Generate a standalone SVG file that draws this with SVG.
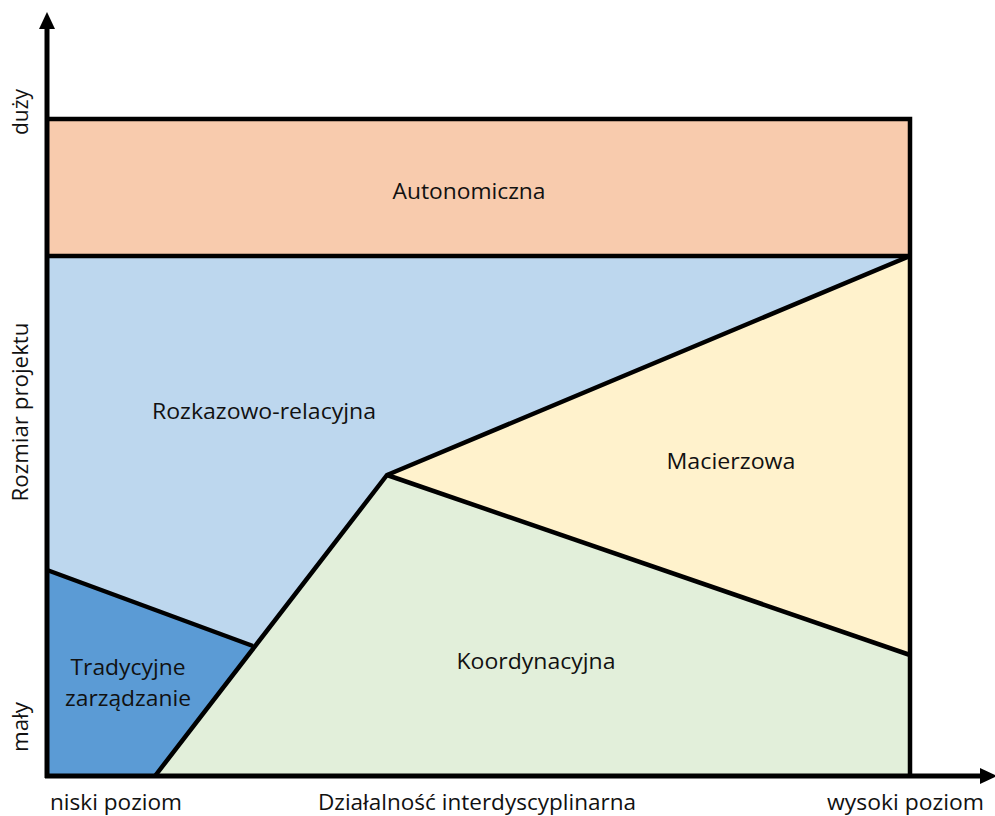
<svg xmlns="http://www.w3.org/2000/svg" width="995" height="816" viewBox="0 0 995 816">
  <style>
    text { font-family: "Open Sans", "Noto Sans", "Liberation Sans", sans-serif; font-size: 22px; fill: #111; }
    .edge { stroke: #000; stroke-width: 4.5; fill: none; stroke-linejoin: miter; }
    .axis { stroke: #000; stroke-width: 5; fill: none; }
    .head { fill: #000; }
  </style>
  <rect width="995" height="816" fill="#fff"/>

  <!-- regions -->
  <g id="autonomiczna">
    <rect x="47" y="119" width="863" height="137" fill="#F8CBAD"/>
    <text x="469" y="199" text-anchor="middle" textLength="153" lengthAdjust="spacingAndGlyphs">Autonomiczna</text>
  </g>
  <g id="rozkazowo-relacyjna">
    <polygon points="47,256 910,256 387,475 253,646 47,570" fill="#BDD7EE"/>
    <text x="264" y="419" text-anchor="middle" textLength="224" lengthAdjust="spacingAndGlyphs">Rozkazowo-relacyjna</text>
  </g>
  <g id="macierzowa">
    <polygon points="387,475 910,256 910,655" fill="#FFF2CC"/>
    <text x="731" y="469" text-anchor="middle" textLength="129" lengthAdjust="spacingAndGlyphs">Macierzowa</text>
  </g>
  <g id="koordynacyjna">
    <polygon points="387,475 910,655 910,776 155,776" fill="#E2EFDA"/>
    <text x="536" y="669" text-anchor="middle" textLength="159" lengthAdjust="spacingAndGlyphs">Koordynacyjna</text>
  </g>
  <g id="tradycyjne">
    <polygon points="47,570 253,646 155,776 47,776" fill="#5B9BD5"/>
    <text x="128" y="675" text-anchor="middle" textLength="115" lengthAdjust="spacingAndGlyphs">Tradycyjne</text>
    <text x="128" y="706" text-anchor="middle" textLength="126" lengthAdjust="spacingAndGlyphs">zarządzanie</text>
  </g>

  <!-- boundaries and axes -->
  <g id="connectors">
    <polyline class="edge" points="47,119 910,119 910,776"/>
    <line class="edge" x1="47" y1="256" x2="910" y2="256"/>
    <line class="edge" x1="47" y1="570" x2="253" y2="646"/>
    <polyline class="edge" points="155,776 387,475 910,256"/>
    <line class="edge" x1="387" y1="475" x2="910" y2="655"/>
    <line class="axis" x1="47" y1="778" x2="47" y2="26"/>
    <polygon class="head" points="47,12 39,29 55,29"/>
    <line class="axis" x1="45" y1="776" x2="982" y2="776"/>
    <polygon class="head" points="997,776 980,768 980,784"/>
  </g>

  <!-- axis labels -->
  <g id="x-labels">
    <text x="50" y="810" textLength="132" lengthAdjust="spacingAndGlyphs">niski poziom</text>
    <text x="477" y="810" text-anchor="middle" textLength="318" lengthAdjust="spacingAndGlyphs">Działalność interdyscyplinarna</text>
    <text x="827" y="810" textLength="157" lengthAdjust="spacingAndGlyphs">wysoki poziom</text>
  </g>
  <g id="y-labels">
    <text transform="translate(28,112) rotate(-90)" text-anchor="middle" textLength="46" lengthAdjust="spacingAndGlyphs">duży</text>
    <text transform="translate(28,412) rotate(-90)" text-anchor="middle" textLength="179" lengthAdjust="spacingAndGlyphs">Rozmiar projektu</text>
    <text transform="translate(28,727) rotate(-90)" text-anchor="middle" textLength="50" lengthAdjust="spacingAndGlyphs">mały</text>
  </g>
</svg>
